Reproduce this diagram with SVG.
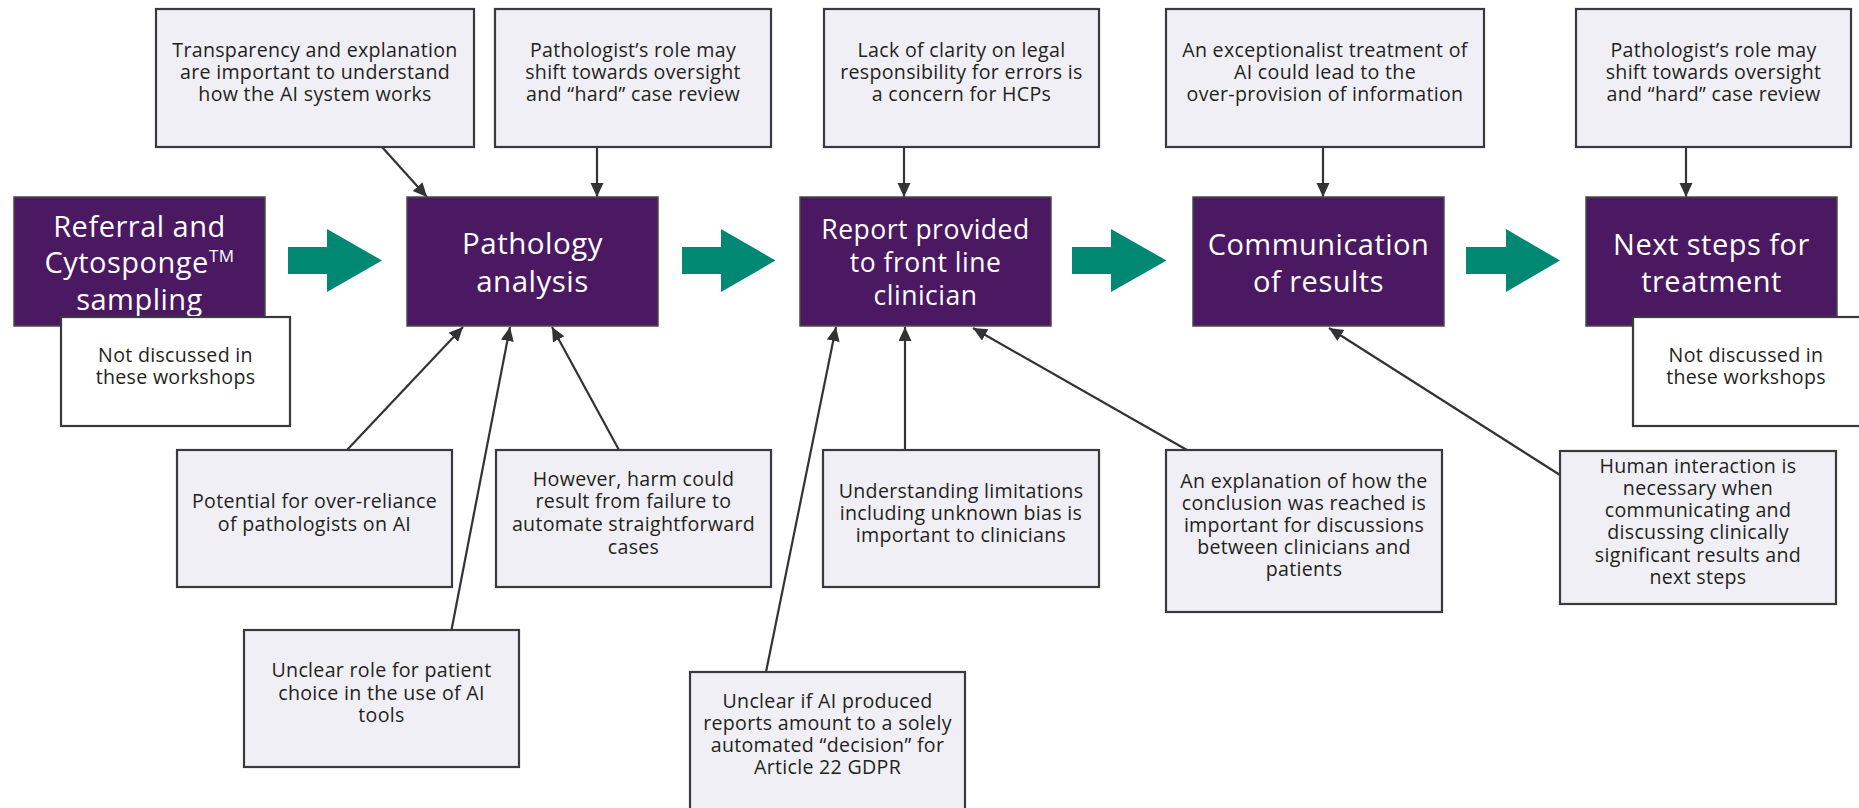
<svg xmlns="http://www.w3.org/2000/svg" width="1859" height="808" viewBox="0 0 1859 808">
<defs>
<style>
.note{fill:#F1EFF6;stroke:#3A393D;stroke-width:2.2}
.nd{fill:#FFFFFF;stroke:#3A393D;stroke-width:2.2}
.step{fill:#4B1862;stroke:#4A4A4A;stroke-width:1.5}
.flow{fill:#008872}
.t{font-family:"Open Sans","Noto Sans","Liberation Sans",sans-serif;font-size:19.6px;letter-spacing:0.3px;fill:#231F20;text-anchor:middle}
.w{font-family:"Open Sans","Noto Sans","Liberation Sans",sans-serif;fill:#FFFFFF;text-anchor:middle;letter-spacing:0.5px}
.c{stroke:#333335;stroke-width:2.2;fill:none;marker-end:url(#ah)}
</style>
<marker id="ah" markerUnits="userSpaceOnUse" markerWidth="16" markerHeight="14" refX="14" refY="6.5" orient="auto">
<path d="M0,0 L14,6.5 L0,13 z" fill="#333335"/>
</marker>
</defs>
<rect width="1859" height="808" fill="#FFFFFF"/>

<g id="connectors">
<line class="c" x1="382" y1="147" x2="427" y2="197"/>
<line class="c" x1="597" y1="147" x2="597" y2="197"/>
<line class="c" x1="904" y1="147" x2="904" y2="197"/>
<line class="c" x1="1323" y1="147" x2="1323" y2="197"/>
<line class="c" x1="1686" y1="147" x2="1686" y2="197"/>
<line class="c" x1="347" y1="450" x2="463" y2="327"/>
<line class="c" x1="451.5" y1="630" x2="510" y2="327"/>
<line class="c" x1="619" y1="450" x2="552" y2="327"/>
<line class="c" x1="766" y1="672" x2="836" y2="327"/>
<line class="c" x1="905" y1="450" x2="905" y2="327"/>
<line class="c" x1="1187" y1="450" x2="973" y2="328"/>
<line class="c" x1="1560" y1="475" x2="1329" y2="328"/>
<polygon class="flow" points="288,247 327,247 327,229 382,260.5 327,292 327,274 288,274"/>
<polygon class="flow" points="682,247 721,247 721,229 775.5,260.5 721,292 721,274 682,274"/>
<polygon class="flow" points="1072,247 1111,247 1111,229 1166.5,260.5 1111,292 1111,274 1072,274"/>
<polygon class="flow" points="1466,247 1506,247 1506,229 1560,260.5 1506,292 1506,274 1466,274"/>
</g>

<g id="top1">
<rect class="note" x="156" y="9" width="318" height="138"/>
<text class="t" x="315" y="57">Transparency and explanation</text>
<text class="t" x="315" y="79">are important to understand</text>
<text class="t" x="315" y="101">how the AI system works</text>
</g>
<g id="top2">
<rect class="note" x="495" y="9" width="276" height="138"/>
<text class="t" x="633" y="57">Pathologist’s role may</text>
<text class="t" x="633" y="79">shift towards oversight</text>
<text class="t" x="633" y="101">and “hard” case review</text>
</g>
<g id="top3">
<rect class="note" x="824" y="9" width="275" height="138"/>
<text class="t" x="961.5" y="57">Lack of clarity on legal</text>
<text class="t" x="961.5" y="79">responsibility for errors is</text>
<text class="t" x="961.5" y="101">a concern for HCPs</text>
</g>
<g id="top4">
<rect class="note" x="1166" y="9" width="318" height="138"/>
<text class="t" x="1325" y="57">An exceptionalist treatment of</text>
<text class="t" x="1325" y="79">AI could lead to the</text>
<text class="t" x="1325" y="101">over-provision of information</text>
</g>
<g id="top5">
<rect class="note" x="1576" y="9" width="275" height="138"/>
<text class="t" x="1713.5" y="57">Pathologist’s role may</text>
<text class="t" x="1713.5" y="79">shift towards oversight</text>
<text class="t" x="1713.5" y="101">and “hard” case review</text>
</g>

<g id="step1">
<rect class="step" x="14" y="197" width="251" height="129"/>
<text class="w" font-size="29" x="139.5" y="237">Referral and</text>
<text class="w" font-size="29" x="139.5" y="273">Cytosponge<tspan font-size="17" dy="-11">TM</tspan></text>
<text class="w" font-size="29" x="139.5" y="310">sampling</text>
</g>
<g id="step2">
<rect class="step" x="407" y="197" width="251" height="129"/>
<text class="w" font-size="29.5" x="532.5" y="253.5">Pathology</text>
<text class="w" font-size="29.5" x="532.5" y="292">analysis</text>
</g>
<g id="step3">
<rect class="step" x="800" y="197" width="251" height="129"/>
<text class="w" font-size="26.5" x="925.5" y="238.5">Report provided</text>
<text class="w" font-size="26.5" x="925.5" y="271.5">to front line</text>
<text class="w" font-size="26.5" x="925.5" y="304.5">clinician</text>
</g>
<g id="step4">
<rect class="step" x="1193" y="197" width="251" height="129"/>
<text class="w" font-size="29" x="1318.5" y="255">Communication</text>
<text class="w" font-size="29" x="1318.5" y="292">of results</text>
</g>
<g id="step5">
<rect class="step" x="1586" y="197" width="251" height="129"/>
<text class="w" font-size="29" x="1711.5" y="255">Next steps for</text>
<text class="w" font-size="29" x="1711.5" y="292">treatment</text>
</g>

<g id="nd1">
<rect class="nd" x="61" y="317" width="229" height="109"/>
<text class="t" x="175.5" y="362">Not discussed in</text>
<text class="t" x="175.5" y="384">these workshops</text>
</g>
<g id="nd2">
<rect class="nd" x="1633" y="317" width="229" height="109"/>
<text class="t" x="1746" y="362">Not discussed in</text>
<text class="t" x="1746" y="384">these workshops</text>
</g>

<g id="b1">
<rect class="note" x="177" y="450" width="275" height="137"/>
<text class="t" x="314.5" y="508">Potential for over-reliance</text>
<text class="t" x="314.5" y="531">of pathologists on AI</text>
</g>
<g id="b2">
<rect class="note" x="496" y="450" width="275" height="137"/>
<text class="t" x="633.5" y="486">However, harm could</text>
<text class="t" x="633.5" y="508">result from failure to</text>
<text class="t" x="633.5" y="531">automate straightforward</text>
<text class="t" x="633.5" y="554">cases</text>
</g>
<g id="b3">
<rect class="note" x="823" y="450" width="276" height="137"/>
<text class="t" x="961" y="498">Understanding limitations</text>
<text class="t" x="961" y="520">including unknown bias is</text>
<text class="t" x="961" y="542">important to clinicians</text>
</g>
<g id="b4">
<rect class="note" x="1166" y="450" width="276" height="162"/>
<text class="t" x="1304" y="488">An explanation of how the</text>
<text class="t" x="1304" y="510">conclusion was reached is</text>
<text class="t" x="1304" y="532">important for discussions</text>
<text class="t" x="1304" y="554">between clinicians and</text>
<text class="t" x="1304" y="576">patients</text>
</g>
<g id="b5">
<rect class="note" x="1560" y="451" width="276" height="153"/>
<text class="t" x="1698" y="473">Human interaction is</text>
<text class="t" x="1698" y="495">necessary when</text>
<text class="t" x="1698" y="517">communicating and</text>
<text class="t" x="1698" y="539">discussing clinically</text>
<text class="t" x="1698" y="562">significant results and</text>
<text class="t" x="1698" y="584">next steps</text>
</g>
<g id="b6">
<rect class="note" x="244" y="630" width="275" height="137"/>
<text class="t" x="381.5" y="677">Unclear role for patient</text>
<text class="t" x="381.5" y="700">choice in the use of AI</text>
<text class="t" x="381.5" y="722">tools</text>
</g>
<g id="b7">
<rect class="note" x="690" y="672" width="275" height="140"/>
<text class="t" x="827.5" y="708">Unclear if AI produced</text>
<text class="t" x="827.5" y="730">reports amount to a solely</text>
<text class="t" x="827.5" y="752">automated “decision” for</text>
<text class="t" x="827.5" y="774">Article 22 GDPR</text>
</g>
</svg>
